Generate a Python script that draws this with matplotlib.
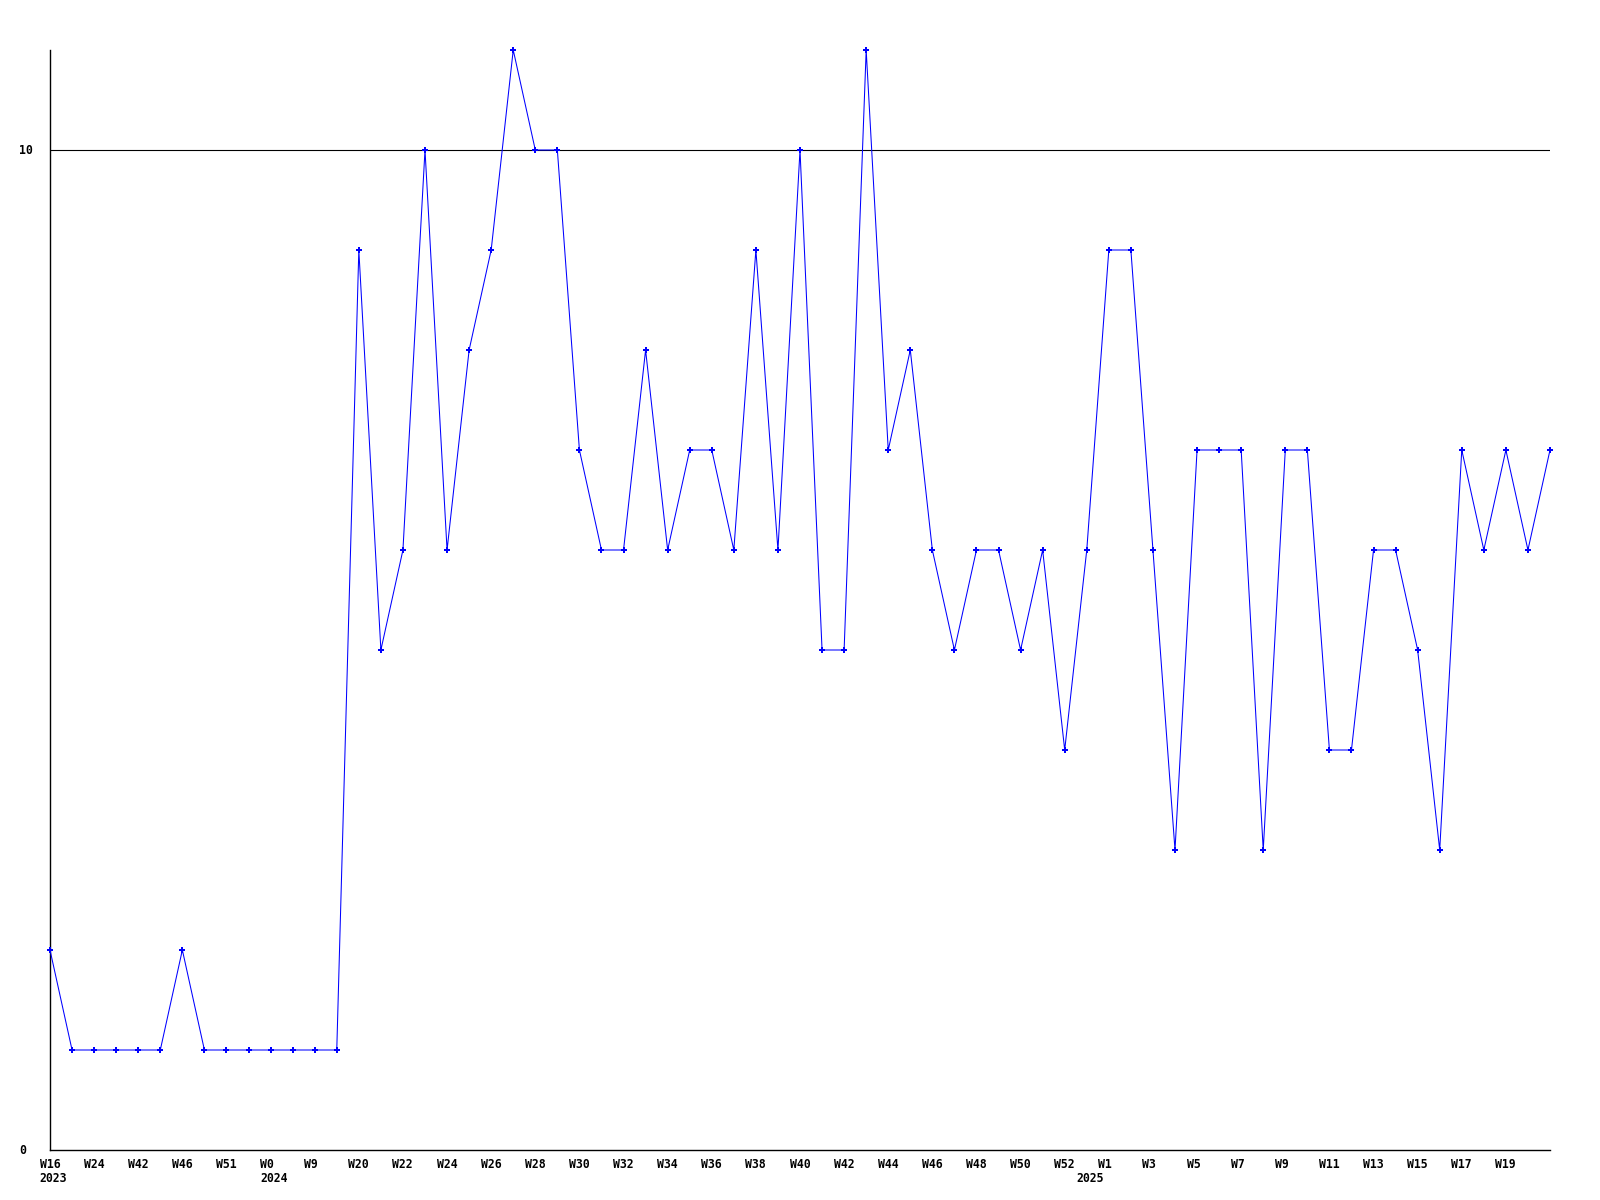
import matplotlib
matplotlib.use("Agg")
import matplotlib.pyplot as plt
from matplotlib.transforms import blended_transform_factory, offset_copy

values = [2, 1, 1, 1, 1, 1, 2, 1, 1, 1, 1, 1, 1, 1,
          9, 5, 6, 10, 6, 8, 9, 11, 10, 10, 7, 6, 6, 8, 6, 7, 7, 6, 9, 6, 10,
          5, 5, 11, 7, 8, 6, 5, 6, 6, 5, 6, 4, 6,
          9, 9, 6, 3, 7, 7, 7, 3, 7, 7, 4, 4, 6, 6, 5, 3, 7, 6, 7, 6, 7]

week_labels = ["W16", "W24", "W42", "W46", "W51", "W0", "W9", "W20", "W22",
               "W24", "W26", "W28", "W30", "W32", "W34", "W36", "W38", "W40",
               "W42", "W44", "W46", "W48", "W50", "W52", "W1", "W3", "W5",
               "W7", "W9", "W11", "W13", "W15", "W17", "W19"]
label_step = 2
# year label -> index of the data point it starts at
year_labels = {"2023": 0, "2024": 10, "2025": 47}
y_ticks = [0, 10]

FONT = dict(family="DejaVu Sans Mono", fontweight="bold", fontsize=8.3, color="black")

fig = plt.figure(figsize=(16, 12), dpi=100)
ax = fig.add_axes([50 / 1600, 1 - 1150 / 1200, 1500 / 1600, 1100 / 1200])

x = list(range(len(values)))
ax.plot(x, values, color="#0000ff", linewidth=0.75, marker="P", markersize=4.5,
        markeredgewidth=0, markerfacecolor="#0000ff", clip_on=False, zorder=3)

ax.set_xlim(0, len(values) - 1)
ax.set_ylim(0, 11)

for s in ["top", "right"]:
    ax.spines[s].set_visible(False)
for s in ["left", "bottom"]:
    ax.spines[s].set_color("black")
    ax.spines[s].set_linewidth(1.0)

ax.set_xticks([])
ax.set_yticks([])

# horizontal reference line at 10
ax.axhline(10, color="black", linewidth=0.8, zorder=2)

# x labels: left aligned, slightly left of the point
trans = blended_transform_factory(ax.transData, fig.transFigure)
t = offset_copy(trans, fig=fig, x=-10.5, y=0, units="dots")
for i, lab in enumerate(week_labels):
    fig.text(i * label_step, 1 - 1164 / 1200, lab, transform=t,
             ha="left", va="center", **FONT)
for yr, idx in year_labels.items():
    fig.text(idx, 1 - 1179 / 1200, yr, transform=t,
             ha="left", va="center", **FONT)

# y labels
ytrans = blended_transform_factory(fig.transFigure, ax.transData)
for yv in y_ticks:
    fig.text(19 / 1600, yv, str(yv), transform=ytrans, ha="left", va="center", **FONT)

fig.savefig("out.png", dpi=100, facecolor="white")
